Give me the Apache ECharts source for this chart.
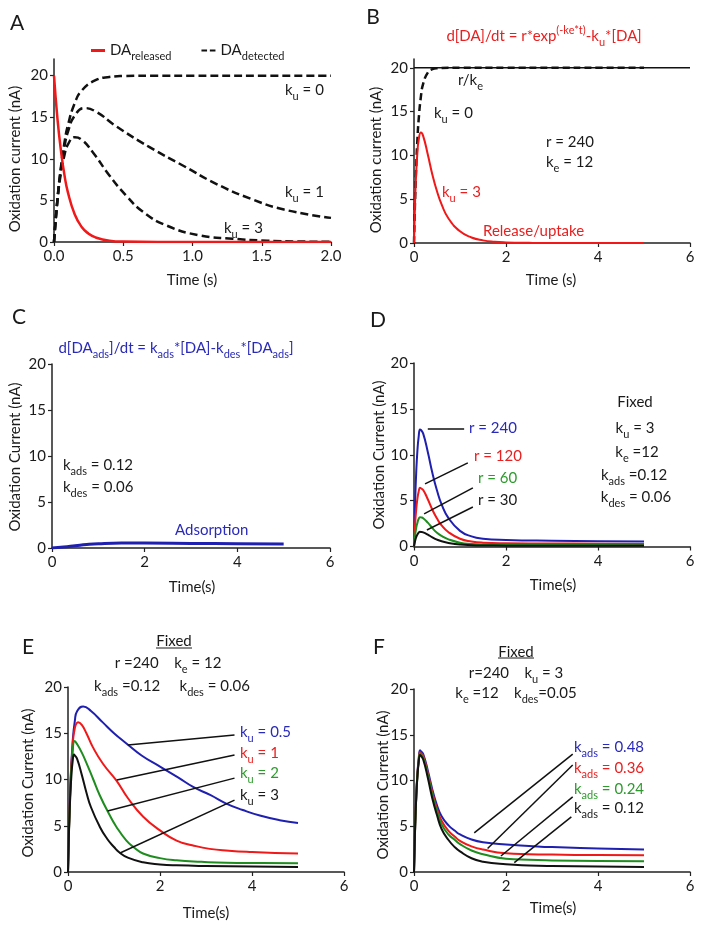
<!DOCTYPE html>
<html><head><meta charset="utf-8">
<script src="https://cdn.jsdelivr.net/npm/echarts@6/dist/echarts.min.js"></script>
<style>html,body{margin:0;padding:0;background:#fff}#c{width:703px;height:932px}</style>
</head><body><div id="c"></div>
<script>
// ---------------- DATA ----------------
// Panel A (time 0..2 s)
const tA_red = [0, 0.025, 0.05, 0.075, 0.1, 0.15, 0.2, 0.25, 0.3, 0.4, 0.5, 1.0, 1.5, 2.0];
const A_released = [20, 14.8, 11.0, 8.1, 6.0, 3.3, 1.8, 1.0, 0.55, 0.16, 0.05, 0, 0, 0];
const tA_ku0 = [0, 0.025, 0.05, 0.075, 0.1, 0.15, 0.2, 0.3, 0.4, 0.5, 0.75, 1.0, 1.5, 2.0];
const A_ku0 = [0, 5.2, 9.0, 11.9, 14.0, 16.7, 18.2, 19.45, 19.84, 19.95, 20, 20, 20, 20];
const tA_ku1 = [0, 0.025, 0.05, 0.075, 0.1, 0.15, 0.22, 0.3, 0.45, 0.69, 0.93, 1.17, 1.42, 1.66, 2.0];
const A_ku1 = [0, 5.1, 8.8, 11.4, 13.2, 15.2, 16.1, 15.7, 13.9, 11.4, 9.2, 7.0, 5.2, 3.9, 2.9];
const tA_ku3 = [0, 0.025, 0.05, 0.075, 0.1, 0.15, 0.2, 0.28, 0.4, 0.52, 0.645, 0.81, 1.05, 1.29, 1.54, 1.8, 2.0];
const A_ku3 = [0, 5.0, 8.3, 10.4, 11.7, 12.6, 12.3, 10.8, 8.0, 5.6, 3.6, 2.0, 0.8, 0.4, 0.15, 0.05, 0.02];

// Panel B (time 0..6 s)
const tB_rke = [0, 6];
const B_rke = [20, 20];
const tB_ku0 = [0, 0.025, 0.05, 0.075, 0.1, 0.15, 0.2, 0.3, 0.4, 0.5, 1, 2, 3, 4, 5];
const B_ku0 = [0, 5.2, 9, 11.9, 14, 16.7, 18.2, 19.45, 19.84, 19.95, 20, 20, 20, 20, 20];
const tB_ku3 = [0, 0.025, 0.05, 0.075, 0.1, 0.15, 0.2, 0.3, 0.4, 0.5, 0.6, 0.75, 1.0, 1.25, 1.5, 1.75, 2.0, 2.5, 3, 4, 5];
const B_ku3 = [0, 5.0, 8.3, 10.4, 11.7, 12.6, 12.2, 10.1, 7.8, 5.9, 4.4, 2.8, 1.33, 0.63, 0.3, 0.14, 0.07, 0.02, 0, 0, 0];

// Panel C
const tC = [0, 0.25, 0.5, 0.75, 1.0, 1.5, 2.0, 3.0, 4.0, 5.0];
const C_ads = [0, 0.1, 0.24, 0.38, 0.47, 0.54, 0.54, 0.5, 0.46, 0.43];

// Panel D
const tD = [0, 0.025, 0.05, 0.075, 0.1, 0.13, 0.15, 0.2, 0.3, 0.4, 0.5, 0.6, 0.75, 1.0, 1.25, 1.5, 2.0, 3, 4, 5];
const D_r240 = [0, 5.0, 8.3, 10.5, 11.9, 12.75, 12.7, 12.3, 10.3, 8.0, 6.1, 4.6, 3.1, 1.7, 1.1, 0.85, 0.72, 0.63, 0.58, 0.55];
const D_r120 = [0, 2.5, 4.15, 5.25, 5.95, 6.4, 6.35, 6.15, 5.15, 4.0, 3.05, 2.3, 1.55, 0.85, 0.55, 0.42, 0.36, 0.33, 0.3, 0.28];
const D_r60 = [0, 1.25, 2.1, 2.6, 3.0, 3.2, 3.18, 3.08, 2.6, 2.0, 1.5, 1.15, 0.78, 0.42, 0.28, 0.22, 0.18, 0.16, 0.15, 0.14];
const D_r30 = [0, 0.62, 1.05, 1.3, 1.5, 1.6, 1.59, 1.54, 1.3, 1.0, 0.75, 0.57, 0.39, 0.21, 0.14, 0.11, 0.09, 0.08, 0.07, 0.07];

// Panel E
const tE_ku05 = [0, 0.05, 0.1, 0.15, 0.2, 0.33, 0.5, 0.75, 1.0, 1.27, 1.6, 2.0, 2.4, 2.72, 3.1, 3.44, 3.8, 4.17, 4.6, 5.0];
const E_ku05 = [0, 9.2, 14.0, 16.4, 17.4, 17.9, 17.4, 16.2, 15.0, 13.9, 12.6, 11.4, 10.2, 9.2, 8.3, 7.4, 6.7, 6.1, 5.6, 5.3];
const tE_ku1 = [0, 0.05, 0.1, 0.15, 0.22, 0.3, 0.4, 0.54, 0.76, 1.05, 1.3, 1.63, 2.0, 2.36, 2.7, 3.08, 3.5, 4.0, 4.5, 5.0];
const E_ku1 = [0, 9.0, 13.6, 15.6, 16.2, 15.9, 15.0, 13.5, 11.7, 9.9, 8.0, 6.0, 4.5, 3.4, 2.9, 2.5, 2.3, 2.15, 2.05, 2.0];
const tE_ku2 = [0, 0.05, 0.1, 0.145, 0.2, 0.3, 0.4, 0.55, 0.69, 0.89, 1.05, 1.27, 1.45, 1.63, 2.0, 2.36, 2.9, 3.44, 4.2, 5.0];
const E_ku2 = [0, 8.7, 12.9, 14.15, 13.8, 12.9, 11.8, 10.0, 8.3, 6.3, 4.9, 3.4, 2.6, 2.0, 1.5, 1.26, 1.1, 1.0, 0.97, 0.95];
const tE_ku3 = [0, 0.025, 0.05, 0.075, 0.1, 0.13, 0.15, 0.2, 0.3, 0.4, 0.5, 0.69, 0.85, 1.0, 1.12, 1.3, 1.63, 2.0, 2.36, 3.0, 4.0, 5.0];
const E_ku3 = [0, 5.0, 8.3, 10.5, 11.9, 12.7, 12.6, 12.2, 10.5, 8.6, 7.0, 4.9, 3.6, 2.7, 2.1, 1.55, 1.05, 0.82, 0.72, 0.65, 0.6, 0.55];

// Panel F
const tF = [0, 0.025, 0.05, 0.075, 0.1, 0.13, 0.15, 0.2, 0.3, 0.4, 0.5, 0.6, 0.75, 0.89, 1.0, 1.25, 1.5, 2.0, 2.5, 3, 4, 5];
const F_k012 = [0, 5.0, 8.3, 10.5, 11.9, 12.8, 12.7, 12.3, 10.3, 8.0, 6.2, 4.7, 3.5, 2.7, 2.25, 1.5, 1.12, 0.84, 0.72, 0.66, 0.6, 0.55];
const F_k024 = [0, 5.0, 8.35, 10.6, 12.0, 12.95, 12.85, 12.5, 10.6, 8.4, 6.6, 5.2, 4.1, 3.5, 3.05, 2.35, 1.95, 1.45, 1.33, 1.27, 1.2, 1.17];
const F_k036 = [0, 5.05, 8.4, 10.7, 12.1, 13.1, 13.0, 12.7, 10.8, 8.7, 6.9, 5.6, 4.5, 3.85, 3.4, 2.8, 2.45, 2.05, 1.95, 1.9, 1.85, 1.82];
const F_k048 = [0, 5.1, 8.5, 10.8, 12.25, 13.3, 13.2, 12.9, 11.1, 9.0, 7.3, 6.1, 5.1, 4.5, 4.1, 3.55, 3.25, 3.0, 2.85, 2.72, 2.58, 2.45];

// Tick labels
const yTicks = [0, 5, 10, 15, 20];
const xTicksA = [0, 0.5, 1.0, 1.5, 2.0];
const xTicks6 = [0, 2, 4, 6];

// Annotation pointer lines (data coords: x1,y1,x2,y2)
const ptrD = [[0.30, 12.8, 1.09, 12.8], [0.24, 6.82, 1.17, 9.12], [0.22, 3.55, 1.28, 6.39], [0.28, 1.80, 1.28, 4.31]];
const ptrE = [[1.30, 13.73, 3.62, 14.81], [1.06, 9.94, 3.62, 12.64], [0.86, 6.59, 3.62, 10.15], [1.12, 2.03, 3.62, 7.77]];
const ptrF = [[1.31, 4.27, 3.45, 12.89], [1.60, 2.56, 3.45, 11.69], [1.89, 1.75, 3.45, 8.21], [2.18, 1.03, 3.42, 6.02]];

// ---------------- STYLE ----------------
const FONT = 'Lato';
const TXT = '#1a1a1a';
const RED = '#f01818', BLUE = '#1f1fb0', GREEN = '#1e8c1e', BLACK = '#111111';
const RED_T = '#e82020', BLUE_T = '#2a2ab8', GREEN_T = '#2e9a2e';

function rich(fs) {
  const ss = Math.round(fs * 0.7), off = Math.round(fs * 0.8);
  return {
    n: { fontFamily: FONT, fontSize: fs, lineHeight: fs + 4 },
    s: { fontFamily: FONT, fontSize: ss, lineHeight: ss, padding: [off, 0, 0, 0] },
    p: { fontFamily: FONT, fontSize: ss, lineHeight: ss, padding: [0, 0, off, 0] }
  };
}
function mk(str) {
  return str.split(/(_\{[^}]*\}|\^\{[^}]*\})/).filter(s => s).map(s => {
    if (s[0] === '_' && s[1] === '{') return '{s|' + s.slice(2, -1) + '}';
    if (s[0] === '^' && s[1] === '{') return '{p|' + s.slice(2, -1) + '}';
    return '{n|' + s + '}';
  }).join('');
}
function T(x, y, str, o) {
  o = o || {};
  const fs = o.fs || 15;
  return {
    type: 'text', x: x, y: y, rotation: o.rot || 0, silent: true, z: 100,
    style: {
      text: mk(str), rich: rich(fs), fill: o.color || TXT,
      fontFamily: FONT, fontSize: fs,
      align: o.align || 'left', verticalAlign: 'middle'
    }
  };
}
function L(x1, y1, x2, y2) {
  return { type: 'line', silent: true, z: 100, shape: { x1, y1, x2, y2 }, style: { stroke: TXT, lineWidth: 1 } };
}

const grids = [
  { left: 54, top: 59, width: 277, height: 183 },   // A
  { left: 414, top: 59, width: 276, height: 184 },  // B
  { left: 52, top: 364, width: 278, height: 184 },  // C
  { left: 414, top: 363, width: 276, height: 183.5 }, // D
  { left: 68, top: 687, width: 276, height: 185 },  // E
  { left: 414, top: 689, width: 276, height: 183 }  // F
];

const axLine = { show: true, lineStyle: { color: '#222', width: 1.5 } };
const axTick = { show: true, length: 4, inside: false, lineStyle: { color: '#222', width: 1.2 } };
const lab = { fontFamily: FONT, fontSize: 15, color: TXT };

function xAx(i, max, interval, ticks, dec) {
  return {
    type: 'value', gridIndex: i, min: 0, max: max, interval: interval,
    axisLine: axLine, axisTick: Object.assign({}, axTick, { customValues: ticks }),
    splitLine: { show: false },
    axisLabel: Object.assign({}, lab, { margin: 7, customValues: ticks, showMaxLabel: true,
      formatter: v => dec ? v.toFixed(1) : String(v) })
  };
}
function yAx(i, max) {
  return {
    type: 'value', gridIndex: i, min: 0, max: max, interval: 5,
    axisLine: axLine, axisTick: Object.assign({}, axTick, { customValues: yTicks }),
    splitLine: { show: false },
    axisLabel: Object.assign({}, lab, { margin: 6, customValues: yTicks,
      formatter: v => (v % 5 === 0 && v <= 20) ? String(v) : '' })
  };
}

function pairs(t, v) { return t.map((x, i) => [x, v[i]]); }
function ln(i, name, t, v, color, width, dash, z, extra) {
  return Object.assign({
    type: 'line', name: name, xAxisIndex: i, yAxisIndex: i,
    data: pairs(t, v), showSymbol: false, symbol: 'none',
    smooth: 0.5, z: z || 2, silent: true,
    color: color,
    lineStyle: { color: color, width: width, type: dash || 'solid', cap: 'butt', join: 'round' }
  }, extra || {});
}
function ptr(list) {
  return {
    silent: true, symbol: ['none', 'none'], animation: false,
    label: { show: false },
    lineStyle: { color: BLACK, width: 1.5, type: 'solid' },
    data: list.map(p => [{ coord: [p[0], p[1]] }, { coord: [p[2], p[3]] }])
  };
}

const series = [
  // A
  ln(0, 'DA_detected', tA_ku0, A_ku0, BLACK, 2.5, [8, 4], 2),
  ln(0, 'DA_detected', tA_ku1, A_ku1, BLACK, 2.5, [8, 4], 2),
  ln(0, 'DA_detected', tA_ku3, A_ku3, BLACK, 2.5, [8, 4], 2),
  ln(0, 'DA_released', tA_red, A_released, RED, 2.5, 'solid', 3),
  // B
  ln(1, 'B r/ke', tB_rke, B_rke, BLACK, 1.5, 'solid', 2, { smooth: false }),
  ln(1, 'B ku=0', tB_ku0, B_ku0, BLACK, 2.5, [7, 4], 3),
  ln(1, 'B ku=3', tB_ku3, B_ku3, RED, 2, 'solid', 3),
  // C
  ln(2, 'C adsorption', tC, C_ads, BLUE, 3, 'solid', 3),
  // D
  ln(3, 'D r=240', tD, D_r240, BLUE, 2, 'solid', 3, { markLine: ptr(ptrD) }),
  ln(3, 'D r=120', tD, D_r120, RED, 2, 'solid', 3),
  ln(3, 'D r=60', tD, D_r60, GREEN, 2, 'solid', 3),
  ln(3, 'D r=30', tD, D_r30, BLACK, 2, 'solid', 3),
  // E
  ln(4, 'E ku=0.5', tE_ku05, E_ku05, BLUE, 2, 'solid', 3, { markLine: ptr(ptrE) }),
  ln(4, 'E ku=1', tE_ku1, E_ku1, RED, 2, 'solid', 3),
  ln(4, 'E ku=2', tE_ku2, E_ku2, GREEN, 2, 'solid', 3),
  ln(4, 'E ku=3', tE_ku3, E_ku3, BLACK, 2, 'solid', 3),
  // F
  ln(5, 'F kads=0.48', tF, F_k048, BLUE, 2, 'solid', 3, { markLine: ptr(ptrF) }),
  ln(5, 'F kads=0.36', tF, F_k036, RED, 2, 'solid', 3),
  ln(5, 'F kads=0.24', tF, F_k024, GREEN, 2, 'solid', 3),
  ln(5, 'F kads=0.12', tF, F_k012, BLACK, 2, 'solid', 3)
];

const graphics = [
  // panel letters
  T(17, 23, 'A', { fs: 21, align: 'center' }),
  T(373, 17, 'B', { fs: 21, align: 'center' }),
  T(19, 317, 'C', { fs: 21, align: 'center' }),
  T(378, 320, 'D', { fs: 21, align: 'center' }),
  T(28, 647, 'E', { fs: 21, align: 'center' }),
  T(379, 647, 'F', { fs: 21, align: 'center' }),
  // axis names
  T(15, 159, 'Oxidation current (nA)', { rot: Math.PI / 2, align: 'center' }),
  T(192, 280, 'Time (s)', { align: 'center' }),
  T(376, 160, 'Oxidation current (nA)', { rot: Math.PI / 2, align: 'center' }),
  T(551, 280, 'Time (s)', { align: 'center' }),
  T(15, 457, 'Oxidation Current (nA)', { rot: Math.PI / 2, align: 'center' }),
  T(192, 587, 'Time(s)', { align: 'center' }),
  T(379, 455, 'Oxidation Current (nA)', { rot: Math.PI / 2, align: 'center' }),
  T(553, 585, 'Time(s)', { align: 'center' }),
  T(28, 783, 'Oxidation Current (nA)', { rot: Math.PI / 2, align: 'center' }),
  T(206, 913, 'Time(s)', { align: 'center' }),
  T(383, 785, 'Oxidation Current (nA)', { rot: Math.PI / 2, align: 'center' }),
  T(553, 908, 'Time(s)', { align: 'center' }),
  // A annotations
  T(285, 90, 'k_{u} = 0'),
  T(285, 192, 'k_{u} = 1'),
  T(224, 228, 'k_{u} = 3'),
  // B annotations
  T(544, 36, 'd[DA]/dt = r*exp^{(-ke*t)}-k_{u}*[DA]', { color: RED_T, align: 'center' }),
  T(458, 80, 'r/k_{e}'),
  T(434, 113, 'k_{u} = 0'),
  T(546, 142, 'r = 240'),
  T(546, 162, 'k_{e} = 12'),
  T(442, 192, 'k_{u} = 3', { color: RED_T }),
  T(483, 231, 'Release/uptake', { color: RED_T }),
  // C annotations
  T(176, 348, 'd[DA_{ads}]/dt = k_{ads}*[DA]-k_{des}*[DA_{ads}]', { color: BLUE_T, align: 'center' }),
  T(63, 465, 'k_{ads} = 0.12'),
  T(63, 487, 'k_{des} = 0.06'),
  T(175, 530, 'Adsorption', { color: BLUE_T }),
  // D annotations
  T(469, 428, 'r = 240', { color: BLUE_T }),
  T(474, 456, 'r = 120', { color: RED_T }),
  T(478, 478, 'r = 60', { color: GREEN_T }),
  T(478, 500, 'r = 30'),
  T(635, 402, 'Fixed', { align: 'center' }),
  T(635, 428, 'k_{u} = 3', { align: 'center' }),
  T(637, 452, 'k_{e} =12', { align: 'center' }),
  T(634, 475, 'k_{ads} =0.12', { align: 'center' }),
  T(636, 497, 'k_{des} = 0.06', { align: 'center' }),
  // E annotations
  T(174, 641, 'Fixed', { align: 'center' }),
  L(156, 648, 192, 648),
  T(168, 663, 'r =240    k_{e} = 12', { align: 'center' }),
  T(172, 686, 'k_{ads} =0.12     k_{des} = 0.06', { align: 'center' }),
  T(240, 732, 'k_{u} = 0.5', { color: BLUE_T }),
  T(240, 753, 'k_{u} = 1', { color: RED_T }),
  T(240, 773, 'k_{u} = 2', { color: GREEN_T }),
  T(240, 795, 'k_{u} = 3'),
  // F annotations
  T(516, 652, 'Fixed', { align: 'center' }),
  L(498, 658, 534, 658),
  T(516, 673, 'r=240    k_{u} = 3', { align: 'center' }),
  T(516, 693, 'k_{e} =12    k_{des}=0.05', { align: 'center' }),
  T(574, 747, 'k_{ads} = 0.48', { color: BLUE_T }),
  T(574, 768, 'k_{ads} = 0.36', { color: RED_T }),
  T(574, 789, 'k_{ads} = 0.24', { color: GREEN_T }),
  T(574, 808, 'k_{ads} = 0.12')
];

const chart = echarts.init(document.getElementById('c'), null, { renderer: 'canvas' });
chart.setOption({
  animation: false,
  backgroundColor: '#ffffff',
  textStyle: { fontFamily: FONT },
  grid: grids,
  xAxis: [
    xAx(0, 2, 0.5, xTicksA, true),
    xAx(1, 6, 2, xTicks6, false),
    xAx(2, 6, 2, xTicks6, false),
    xAx(3, 6, 2, xTicks6, false),
    xAx(4, 6, 2, xTicks6, false),
    xAx(5, 6, 2, xTicks6, false)
  ],
  yAxis: [yAx(0, 22), yAx(1, 21), yAx(2, 20), yAx(3, 20), yAx(4, 20), yAx(5, 20)],
  legend: {
    left: 86, top: 34, itemWidth: 14, itemHeight: 3, itemGap: 30, selectedMode: false,
    data: [
      { name: 'DA_released', icon: 'rect', itemStyle: { color: RED } },
      { name: 'DA_detected', icon: 'path://M0,0h6v2h-6zM9,0h6v2h-6z', itemStyle: { color: BLACK } }
    ],
    formatter: n => n === 'DA_released' ? '{n|DA}{s|released}' : '{n|DA}{s|detected}',
    textStyle: { color: TXT, fontFamily: FONT, fontSize: 15, rich: rich(15) }
  },
  series: series,
  graphic: graphics
});
</script></body></html>
